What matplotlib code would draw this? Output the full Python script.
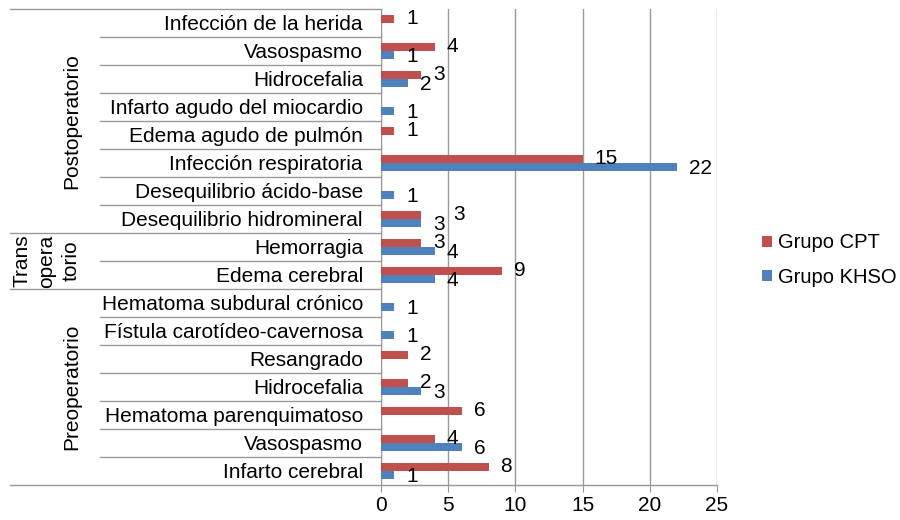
import numpy as np
import matplotlib.pyplot as plt
import matplotlib.transforms as mtransforms

plt.rcParams['font.family'] = ['Liberation Sans', 'DejaVu Sans']

# data (top to bottom as in the chart)
groups = ['Postoperatorio', 'Trans\nopera\ntorio', 'Preoperatorio']
group_sizes = [8, 2, 7]
categories = ['Infección de la herida', 'Vasospasmo', 'Hidrocefalia',
              'Infarto agudo del miocardio', 'Edema agudo de pulmón',
              'Infección respiratoria', 'Desequilibrio ácido-base',
              'Desequilibrio hidromineral',
              'Hemorragia', 'Edema cerebral',
              'Hematoma subdural crónico', 'Fístula carotídeo-cavernosa',
              'Resangrado', 'Hidrocefalia', 'Hematoma parenquimatoso',
              'Vasospasmo', 'Infarto cerebral']
cpt = [1, 4, 3, 0, 1, 15, 0, 3, 3, 9, 0, 0, 2, 2, 6, 4, 8]
khso = [0, 1, 2, 1, 0, 22, 1, 3, 4, 4, 1, 1, 0, 3, 0, 6, 1]
series_names = ['Grupo CPT', 'Grupo KHSO']
xticks = [0, 5, 10, 15, 20, 25]

red = '#C0504D'
blue = '#4F81BD'
grey = '#9A9A9A'
fs = 15

fig = plt.figure(figsize=(9, 5.2), dpi=100)
ax = fig.add_axes([381 / 900, 1 - 485 / 520, 336 / 900, 476 / 520])

y = np.arange(len(categories))
h = 0.3
ax.barh(y - h / 2, cpt, height=h, color=red, label=series_names[0], zorder=3)
ax.barh(y + h / 2, khso, height=h, color=blue, label=series_names[1], zorder=3)

# data labels
for i in range(len(categories)):
    extra = 20 if cpt[i] == khso[i] else 0
    if cpt[i] > 0:
        ax.annotate(str(cpt[i]), (cpt[i], y[i] - h / 2), xytext=(12 + extra, 0),
                    textcoords='offset pixels', va='center', ha='left', fontsize=fs)
    if khso[i] > 0:
        ax.annotate(str(khso[i]), (khso[i], y[i] + h / 2 + 0.05), xytext=(12, 0),
                    textcoords='offset pixels', va='center', ha='left', fontsize=fs)

ax.set_xlim(0, 25)
ax.set_ylim(len(categories) - 0.5, -0.5)
ax.set_xticks(xticks)
ax.set_xticklabels([str(t) for t in xticks], fontsize=fs)
ax.set_yticks(y)
ax.set_yticklabels(categories, fontsize=fs)
ax.tick_params(axis='y', length=0, pad=13)
ax.tick_params(axis='x', length=5, color=grey, pad=3)
ax.grid(axis='x', color=grey, lw=1, zorder=0)
for s in ['top', 'right']:
    ax.spines[s].set_visible(False)
ax.spines['left'].set_color(grey)
ax.spines['bottom'].set_color(grey)

# multi-level category borders in the label area
trans = mtransforms.blended_transform_factory(ax.transAxes, ax.transData)
x_far = (10 - 381) / 336
x_near = (100 - 381) / 336
bounds = np.cumsum([0] + group_sizes) - 0.5
for k in range(len(categories) + 1):
    yy = k - 0.5
    x0 = x_far if yy in bounds else x_near
    x1 = 1 if k == len(categories) else 0
    ax.plot([x0, x1], [yy, yy], color=grey, lw=1, transform=trans, clip_on=False)

# group labels
for g, name in enumerate(groups):
    yc = (bounds[g] + bounds[g + 1]) / 2
    parts = name.split('\n')
    if len(parts) > 1:
        for j, part in enumerate(parts):
            ax.text((22 + 24.5 * j - 381) / 336, yc, part, rotation=90, ha='center',
                    va='center', fontsize=fs, transform=trans)
    else:
        ax.text((72 - 381) / 336, yc, name, rotation=90, ha='center', va='center',
                fontsize=fs, transform=trans)

fig.legend(loc='center left', bbox_to_anchor=(762 / 900, 1 - 260 / 520),
           frameon=False, fontsize=14.5, handlelength=0.5, handleheight=0.5,
           handletextpad=0.3, labelspacing=0.75, borderpad=0, borderaxespad=0)

fig.savefig('out.png', dpi=100)
